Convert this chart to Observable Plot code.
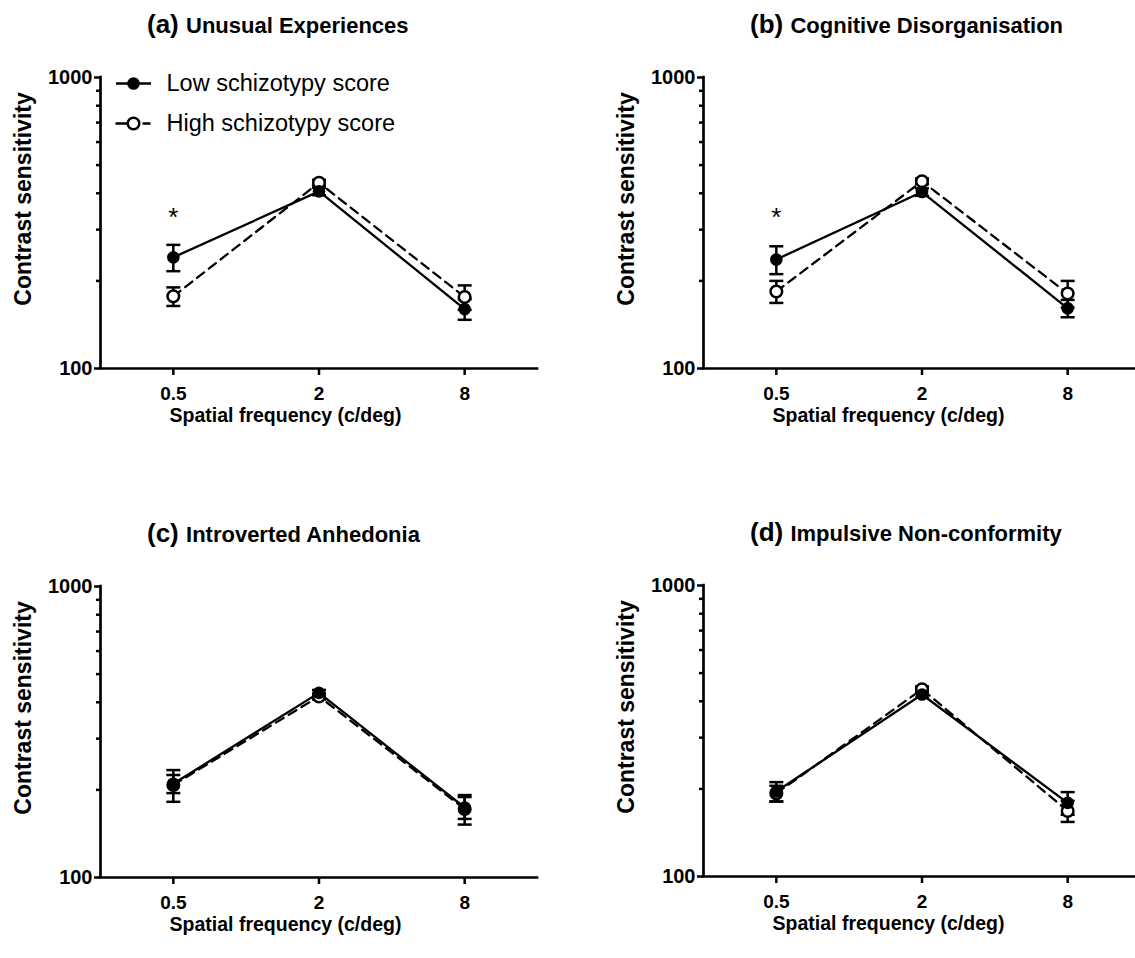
<!DOCTYPE html>
<html><head><meta charset="utf-8">
<script src="https://cdn.jsdelivr.net/npm/d3@7"></script>
<script src="https://cdn.jsdelivr.net/npm/@observablehq/plot@0.6"></script>
<style>
body{margin:0;background:#fff;font-family:"Liberation Sans",Arial,sans-serif;}
#root{position:relative;width:1135px;height:958px;overflow:hidden;background:#fff;}
.panel{position:absolute;width:560px;height:470px;}
.title{position:absolute;top:4px;left:147px;height:40px;line-height:40px;font-size:26px;font-weight:bold;white-space:nowrap;color:#000;}
.title .main{font-size:22px;}
.panel svg{position:absolute;left:0;top:0;overflow:visible;}
</style></head>
<body><div id="root"></div>
<script>
// ---- data ----
const freqs = [0.5, 2, 8];
const yMajorTicks = [100, 1000];
const yMinorTicks = [200, 300, 400, 500, 600, 700, 800, 900];
const seriesNames = ["Low schizotypy score", "High schizotypy score"];

const panelTags = ["(a)", "(b)", "(c)", "(d)"];
const panelNames = ["Unusual Experiences", "Cognitive Disorganisation", "Introverted Anhedonia", "Impulsive Non-conformity"];

const lowA = [241, 406, 160];   const lowAErr = [25, 12, 13];
const highA = [177, 435, 176];  const highAErr = [13, 10, 17];
const lowB = [237, 404, 161];   const lowBErr = [26, 12, 11];
const highB = [184, 440, 181];  const highBErr = [16, 10, 19];
const lowC = [210, 431, 174];   const lowCErr = [15, 10, 15];
const highC = [208, 419, 172];  const highCErr = [26, 10, 20];
const lowD = [196, 422, 179];   const lowDErr = [15, 10, 16];
const highD = [193, 440, 168];  const highDErr = [12, 10, 14];

const starFreq = [0.5];
const starA = [330];
const starB = [330];

const xLabel = "Spatial frequency (c/deg)";
const yLabel = "Contrast sensitivity";

// ---- drawing ----
const capSymbol = {draw(ctx, size){ const w = Math.sqrt(size/Math.PI); ctx.moveTo(-w,0); ctx.lineTo(w,0); }};
const solidSwatch = {draw(ctx, size){ ctx.moveTo(-17.5,0); ctx.lineTo(17.5,0); }};
const dashSwatch = {draw(ctx, size){ ctx.moveTo(-18,0); ctx.lineTo(-5,0); ctx.moveTo(9,0); ctx.lineTo(17,0); }};

function rows(vals, errs, g){ return freqs.map((f,i)=>({f, v:vals[i], e:errs[i], g})); }

function makePanel(low, lowErr, high, highErr, star, legend){
  const L = rows(low, lowErr, "low"), H = rows(high, highErr, "high");
  const all = H.concat(L);
  const marks = [
    Plot.axisY({ticks: yMajorTicks, tickSize:6, text:null, strokeWidth:2.5, label:null}),
    Plot.axisY({ticks: yMinorTicks, tickSize:4, text:null, strokeWidth:2.5, label:null}),
    Plot.axisX({ticks: freqs, tickSize:7, text:null, strokeWidth:2.5, label:null}),
    Plot.text(yMajorTicks, {y:d=>d, text:d=>String(d), frameAnchor:"left", dx:-8, textAnchor:"end", lineAnchor:"middle", fontSize:20, fontWeight:"bold", fill:"black"}),
    Plot.text(freqs, {x:d=>d, text:d=>String(d), frameAnchor:"bottom", dy:25, textAnchor:"middle", lineAnchor:"middle", fontSize:19, fontWeight:"bold", fill:"black"}),
    Plot.ruleX([0.25], {strokeWidth:2.7, strokeLinecap:"square"}),
    Plot.ruleY([100], {strokeWidth:2.7, strokeLinecap:"square"}),
    Plot.line(L, {x:"f", y:"v", stroke:"black", strokeWidth:2.3}),
    Plot.line(H, {x:"f", y:"v", stroke:"black", strokeWidth:2.3, strokeDasharray:"9,6"}),
    Plot.ruleX(all, {x:"f", y1:d=>d.v-d.e, y2:d=>d.v+d.e, stroke:"black", strokeWidth:2.5}),
    Plot.dot(all, {x:"f", y:d=>d.v-d.e, symbol:capSymbol, r:7, stroke:"black", strokeWidth:2.5}),
    Plot.dot(all, {x:"f", y:d=>d.v+d.e, symbol:capSymbol, r:7, stroke:"black", strokeWidth:2.5}),
    Plot.dot(H, {x:"f", y:"v", r:5.8, fill:"white", stroke:"black", strokeWidth:2.5}),
    Plot.dot(L, {x:"f", y:"v", r:6.3, fill:"black", stroke:"none"}),
    Plot.text([yLabel], {text:d=>d, frameAnchor:"left", rotate:-90, dx:-77, dy:-24, textAnchor:"middle", lineAnchor:"middle", fontSize:23, fontWeight:"bold", fill:"black"}),
    Plot.text([xLabel], {text:d=>d, frameAnchor:"bottom-left", dx:185, dy:47, textAnchor:"middle", lineAnchor:"middle", fontSize:19.5, fontWeight:"bold", fill:"black"})
  ];
  if (star) marks.push(Plot.text(starFreq.map((f,i)=>({f, v:star[i]})), {x:"f", y:"v", text:()=>"*", fontSize:26, fill:"black"}));
  if (legend){
    marks.push(
      Plot.dot([0], {frameAnchor:"top-left", dx:33, dy:6, symbol:solidSwatch, r:5, stroke:"black", strokeWidth:2.3}),
      Plot.dot([0], {frameAnchor:"top-left", dx:33, dy:6, r:6.3, fill:"black"}),
      Plot.text([seriesNames[0]], {text:d=>d, frameAnchor:"top-left", dx:66, dy:6, fontSize:23.5, textAnchor:"start", lineAnchor:"middle", fill:"black"}),
      Plot.dot([0], {frameAnchor:"top-left", dx:33, dy:46, symbol:dashSwatch, r:5, stroke:"black", strokeWidth:2.3}),
      Plot.dot([0], {frameAnchor:"top-left", dx:33, dy:46, r:5.8, fill:"white", stroke:"black", strokeWidth:2.5}),
      Plot.text([seriesNames[1]], {text:d=>d, frameAnchor:"top-left", dx:66, dy:46, fontSize:23.5, textAnchor:"start", lineAnchor:"middle", fill:"black"})
    );
  }
  return Plot.plot({
    width:560, height:470, marginLeft:100, marginTop:77, marginBottom:102, marginRight:23,
    x:{type:"log", domain:[0.25,16]},
    y:{type:"log", domain:[100,1000]},
    style:{fontFamily:"'Liberation Sans', Arial, sans-serif", color:"black", background:"transparent", overflow:"visible"},
    marks
  });
}

const root = document.getElementById("root");
const specs = [
  {left:0, top:0, args:[lowA, lowAErr, highA, highAErr, starA, true]},
  {left:603, top:0, args:[lowB, lowBErr, highB, highBErr, starB, false]},
  {left:0, top:509, args:[lowC, lowCErr, highC, highCErr, null, false]},
  {left:603, top:508, args:[lowD, lowDErr, highD, highDErr, null, false]}
];
specs.forEach((s, i) => {
  const div = document.createElement("div");
  div.className = "panel";
  div.style.left = s.left + "px";
  div.style.top = s.top + "px";
  const t = document.createElement("div");
  t.className = "title";
  t.innerHTML = `<span>${panelTags[i]}</span> <span class="main">${panelNames[i]}</span>`;
  div.appendChild(makePanel(...s.args));
  div.appendChild(t);
  root.appendChild(div);
});
</script>
</body></html>
